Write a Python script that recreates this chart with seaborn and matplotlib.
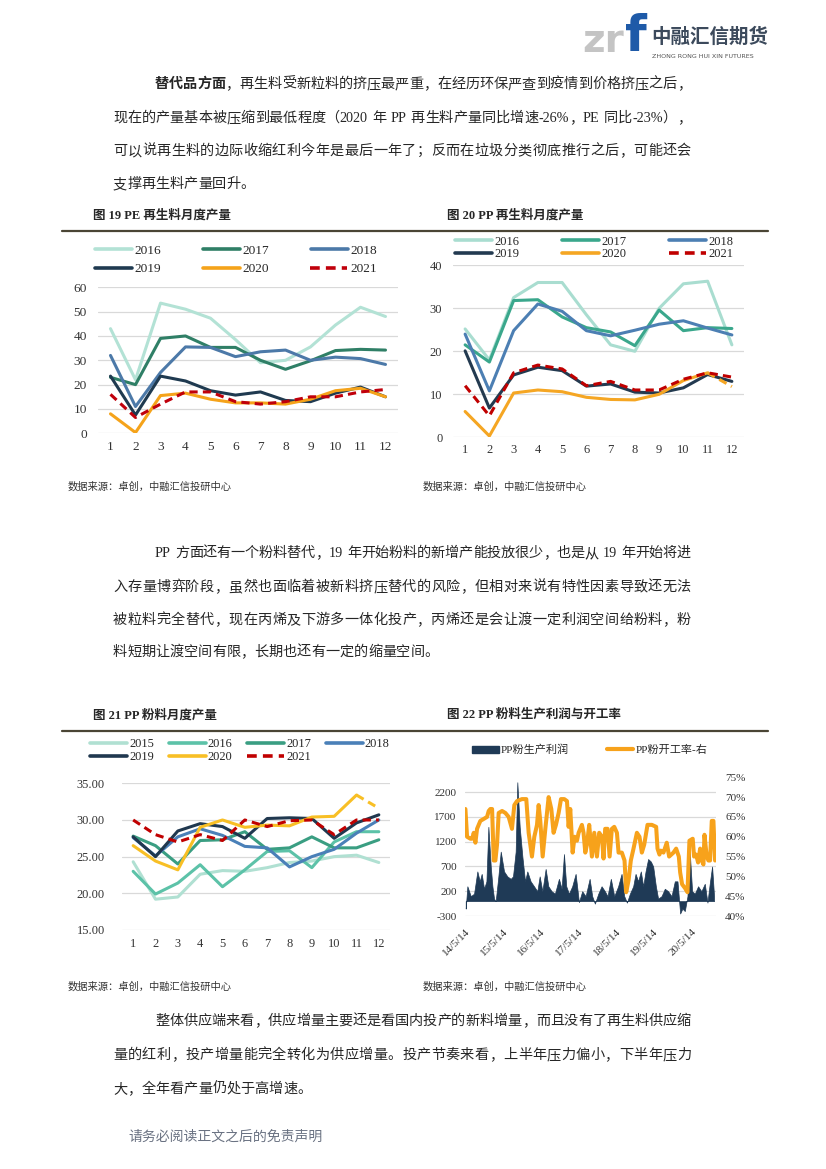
import re

import numpy as np
import pandas as pd
import matplotlib
matplotlib.use("Agg")
import matplotlib.pyplot as plt
from matplotlib.lines import Line2D
from matplotlib.patches import Patch
from matplotlib.ticker import FuncFormatter, FormatStrFormatter
import seaborn as sns

# ---------------- data ----------------
months = list(range(1, 13))

# fig 19 PE recycled output
pe_years = ["2016", "2017", "2018", "2019", "2020", "2021"]
pe_2016 = [43, 22, 53.5, 51, 47.3, 38.5, 29, 30, 35.5, 44.5, 51.8, 48]
pe_2017 = [23, 20, 39, 40, 35.3, 35.3, 30, 26.3, 29.8, 34, 34.5, 34.2]
pe_2018 = [32, 11, 25, 35.5, 35.3, 31.5, 33.5, 34.2, 30, 31.3, 30.7, 28.3]
pe_2019 = [23.5, 7.5, 23.5, 21.5, 17.5, 15.7, 17, 13.5, 13, 16.5, 19, 15]
pe_2020 = [8, 0.3, 15.5, 16.5, 14, 12.5, 12.5, 12, 14, 17.5, 18.5, 15]
pe_2021 = [16, 6.5, 12, 17, 17, 13, 12, 13, 15, 15, 17, 18]
pe_colors = ["#B3E2D5", "#2F7F66", "#4C79A8", "#1F3A50", "#F5A31A", "#C0000B"]

# fig 20 PP recycled output
pp_years = ["2016", "2017", "2018", "2019", "2020", "2021"]
pp_2016 = [25.2, 18, 32.5, 36, 36, 28.5, 21.5, 20, 30, 35.7, 36.3, 21.5]
pp_2017 = [21.5, 17.5, 31.8, 32, 28, 25.5, 24.5, 21.3, 29.6, 24.8, 25.5, 25.3]
pp_2018 = [24, 10.8, 24.8, 31, 29.3, 24.8, 23.6, 24.9, 26.3, 27.1, 25.4, 23.8]
pp_2019 = [20.1, 6.8, 14.5, 16.3, 15.5, 11.9, 12.4, 10.5, 10.3, 11.5, 14.6, 13]
pp_2020 = [6, 0.3, 10.3, 11, 10.6, 9.3, 8.8, 8.7, 10, 13.2, 15, 11.8]
pp_2021 = [12, 5, 15, 16.8, 15.9, 12, 13, 11, 11, 13.5, 15, 14]
pp_colors = ["#A9DDD0", "#3AA78C", "#4C7FB3", "#233A50", "#F5A623", "#C00000"]

# fig 21 PP powder output
pw_years = ["2015", "2016", "2017", "2018", "2019", "2020", "2021"]
pw_2015 = [24.3, 19.2, 19.5, 22.6, 23.1, 23.0, 23.5, 24.2, 24.4, 25.0, 25.2, 24.2]
pw_2016 = [23.0, 19.9, 21.4, 23.9, 20.9, 23.2, 25.7, 25.8, 23.5, 27.0, 28.4, 28.4]
pw_2017 = [27.8, 26.5, 24.0, 27.2, 27.3, 28.4, 26.0, 26.2, 27.7, 26.2, 26.2, 27.3]
pw_2018 = [27.6, 25.1, 27.7, 28.8, 27.9, 26.4, 26.2, 23.6, 25.0, 26.0, 28.2, 30.0]
pw_2019 = [27.7, 25.0, 28.5, 29.5, 29.1, 27.5, 30.2, 30.3, 30.2, 27.5, 29.6, 30.7]
pw_2020 = [26.5, 24.4, 23.2, 29.0, 30.0, 29.0, 29.3, 29.2, 30.4, 30.5, 33.4, 31.6]
pw_2021 = [30.0, 28.0, 27.0, 28.0, 27.2, 30.0, 29.1, 29.9, 30.0, 28.0, 30.0, 30.0]
pw_colors = ["#B0E0D2", "#5CC2A8", "#3A9E82", "#4A80B8", "#20384F", "#F8BF25", "#C00000"]

# fig 22 PP powder profit (left) and operating rate (right, %)
profit_dates = [
    "2014-05-17", "2014-06-02", "2014-07-05", "2014-08-06", "2014-09-07", "2014-09-30",
    "2014-10-19", "2014-11-11", "2014-12-04", "2014-12-23", "2015-01-15", "2015-01-31",
    "2015-02-16", "2015-03-04", "2015-03-30", "2015-04-22", "2015-05-24", "2015-06-25",
    "2015-07-28", "2015-08-19", "2015-09-14", "2015-09-30", "2015-10-23", "2015-11-18",
    "2015-12-14", "2016-01-05", "2016-02-06", "2016-03-10", "2016-04-11", "2016-05-04",
    "2016-05-30", "2016-07-01", "2016-07-27", "2016-08-28", "2016-09-29", "2016-11-07",
    "2016-12-03", "2016-12-26", "2017-01-17", "2017-02-12", "2017-03-16", "2017-04-18",
    "2017-05-20", "2017-06-21", "2017-07-24", "2017-09-01", "2017-09-26", "2017-10-22",
    "2017-11-24", "2017-12-26", "2018-01-27", "2018-02-22", "2018-03-26", "2018-04-28",
    "2018-06-05", "2018-07-08", "2018-08-03", "2018-08-29", "2018-09-27", "2018-10-29",
    "2018-11-21", "2018-12-16", "2019-01-11", "2019-02-03", "2019-02-26", "2019-03-23",
    "2019-04-18", "2019-05-11", "2019-06-06", "2019-06-28", "2019-07-31", "2019-09-01",
    "2019-10-03", "2019-11-05", "2019-12-07", "2020-01-02", "2020-01-28", "2020-02-19",
    "2020-03-13", "2020-04-08", "2020-04-30", "2020-05-23", "2020-06-18", "2020-07-20",
    "2020-08-21", "2020-09-23", "2020-10-19", "2020-11-10", "2020-12-03", "2020-12-22",
]
profit = [
    -150, 300, 100, 150, 600, 400, 550, 250, 400, 1500, 700, 300,
    50, 0, 500, 1000, 600, 500, 450, 500, 1000, 2400, 1500, 900,
    400, 600, 400, 300, 200, 500, 200, 650, 300, 200, 150, 450,
    250, 950, 300, 150, 300, 550, -20, 200, 100, 450, 100, -50,
    150, 300, 200, 100, 450, 100, 300, 550, 100, -30, 150, 300,
    550, 400, 600, 300, 600, 850, 800, 700, 300, 50, 100, 250,
    200, 100, 400, 400, -250, -150, -200, 100, 1000, 200, 150, 300,
    200, 350, -30, 350, 700, 100,
]
rate_dates = [
    "2014-05-14", "2014-05-30", "2014-07-01", "2014-07-18", "2014-08-03", "2014-08-19",
    "2014-09-04", "2014-10-06", "2014-11-08", "2014-12-10", "2014-12-26", "2015-01-11",
    "2015-01-28", "2015-02-13", "2015-03-01", "2015-03-17", "2015-04-02", "2015-05-05",
    "2015-06-06", "2015-07-08", "2015-08-09", "2015-09-01", "2015-09-27", "2015-11-14",
    "2015-12-26", "2016-01-18", "2016-02-19", "2016-03-13", "2016-04-08", "2016-04-24",
    "2016-05-10", "2016-06-02", "2016-06-28", "2016-07-30", "2016-08-25", "2016-09-16",
    "2016-10-09", "2016-11-04", "2016-11-27", "2016-12-29", "2017-01-24", "2017-02-09",
    "2017-02-25", "2017-03-20", "2017-04-08", "2017-05-01", "2017-05-17", "2017-06-18",
    "2017-07-04", "2017-07-21", "2017-08-06", "2017-08-28", "2017-09-23", "2017-10-16",
    "2017-11-11", "2017-12-03", "2017-12-29", "2018-01-14", "2018-01-30", "2018-02-22",
    "2018-03-14", "2018-04-05", "2018-04-28", "2018-05-24", "2018-06-09", "2018-07-11",
    "2018-08-06", "2018-08-22", "2018-09-14", "2018-10-06", "2018-11-01", "2018-12-04",
    "2018-12-29", "2019-01-21", "2019-02-13", "2019-03-17", "2019-04-28", "2019-06-09",
    "2019-06-22", "2019-07-11", "2019-07-24", "2019-08-19", "2019-09-20", "2019-10-13",
    "2019-11-24", "2019-12-20", "2020-01-15", "2020-01-28", "2020-02-16", "2020-03-16",
    "2020-04-08", "2020-04-27", "2020-05-29", "2020-06-11", "2020-07-01", "2020-07-20",
    "2020-08-09", "2020-08-25", "2020-09-10", "2020-09-20", "2020-10-12", "2020-10-28",
    "2020-11-13", "2020-11-30", "2020-12-16", "2021-01-01",
]
rate = [
    67, 60, 59.5, 59.5, 61, 58.5, 62, 64, 64.5, 65, 66.5, 67,
    67, 54, 54, 58, 66, 66.5, 66, 65, 62, 68, 69, 69.5,
    69.5, 61, 55, 60, 63, 68, 64, 55, 62, 70, 67, 61,
    63, 66, 69.5, 69.5, 69, 62.5, 67, 56, 60, 59, 61, 63,
    61, 56, 58, 63, 55, 61, 55, 61, 60, 54.5, 62, 62,
    55, 62, 62.5, 61, 56, 56, 54, 46, 49, 54, 57, 61,
    60, 56, 58, 63, 63, 62.5, 57, 55.5, 56.5, 56, 58.5, 55,
    56, 57, 55, 51, 48, 47, 46, 59, 59.5, 55, 55.5, 53.5,
    57, 54, 53, 60.5, 55, 54, 54, 64, 64, 54,
]
year_ticks = ["2014-05-14", "2015-05-14", "2016-05-14", "2017-05-14",
              "2018-05-14", "2019-05-14", "2020-05-14"]
year_labels = ["14/5/14", "15/5/14", "16/5/14", "17/5/14", "18/5/14", "19/5/14", "20/5/14"]

para1 = [
    [("替代品方面", "bold"), ("，再生料受新粒料的挤压最严重，在经历环保严查到疫情到价格挤压之后，", "normal")],
    [("现在的产量基本被压缩到最低程度（2020 年 PP 再生料产量同比增速-26%，PE 同比-23%），", "normal")],
    [("可以说再生料的边际收缩红利今年是最后一年了；反而在垃圾分类彻底推行之后，可能还会", "normal")],
    [("支撑再生料产量回升。", "normal")],
]
para2 = [
    [("PP 方面还有一个粉料替代，19 年开始粉料的新增产能投放很少，也是从 19 年开始将进", "normal")],
    [("入存量博弈阶段，虽然也面临着被新料挤压替代的风险，但相对来说有特性因素导致还无法", "normal")],
    [("被粒料完全替代，现在丙烯及下游多一体化投产，丙烯还是会让渡一定利润空间给粉料，粉", "normal")],
    [("料短期让渡空间有限，长期也还有一定的缩量空间。", "normal")],
]
para3 = [
    [("整体供应端来看，供应增量主要还是看国内投产的新料增量，而且没有了再生料供应缩", "normal")],
    [("量的红利，投产增量能完全转化为供应增量。投产节奏来看，上半年压力偏小，下半年压力", "normal")],
    [("大，全年看产量仍处于高增速。", "normal")],
]
source = "数据来源：卓创，中融汇信投研中心"

# ---------------- page ----------------
sns.set_style("white")
FONTS = ["Liberation Serif", "Noto Sans CJK SC"]
plt.rcParams["font.family"] = FONTS
plt.rcParams["axes.unicode_minus"] = False

W, H = 826, 1169
fig = plt.figure(figsize=(8.26, 11.69), dpi=100)
renderer = fig.canvas.get_renderer()


def add_ax(l, t, r, b):
    return fig.add_axes([l / W, 1 - b / H, (r - l) / W, (b - t) / H])


def text(x, y, s, size, **kw):
    kw.setdefault("ha", "left")
    return fig.text(x / W, 1 - y / H, s, fontsize=size, va="center", **kw)


def body_line(x, y, parts, right=None, size=10.2):
    # lays a line char by char so full lines can be justified like the word doc
    em = size * 100 / 72
    items = []
    for s, w in parts:
        for tok in re.findall(r"[!-~]+| |[^ -~]", s):
            if tok == " ":
                items.append((None, em * 0.3))
                continue
            t = fig.text(0, 0, tok, fontsize=size, weight=w, va="baseline")
            wd = t.get_window_extent(renderer).width if tok.isascii() else em
            items.append((t, wd))
    total = sum(wd for _, wd in items)
    gap = 0 if right is None else (right - x - total) / (len(items) - 1)
    cx = x
    for t, wd in items:
        if t is not None:
            t.set_position((cx / W, 1 - (y + 5) / H))
        cx += wd + gap


def paragraph(lines, ys):
    for i, (parts, y) in enumerate(zip(lines, ys)):
        x0 = 155 if i == 0 else 113
        body_line(x0, y, parts, right=691 if i < len(lines) - 1 else None)


def style_ax(ax, fs, xpad, ypad):
    ax.yaxis.grid(True, color="#D9D9D9", lw=0.9)
    ax.xaxis.grid(False)
    ax.set_axisbelow(True)
    for s in ax.spines.values():
        s.set_visible(False)
    ax.tick_params(axis="x", length=0, labelsize=fs, pad=xpad, colors="#333333")
    ax.tick_params(axis="y", length=0, labelsize=fs, pad=ypad, colors="#333333")
    ax.set_xlabel("")
    ax.set_ylabel("")


def month_chart(ax, years, series, colors, dashed_tail=False):
    rows = []
    for y, vals in zip(years, series):
        for m, v in zip(months, vals):
            if dashed_tail and y == "2020" and m == 12:
                continue
            rows.append((m, v, y))
        if dashed_tail and y == "2020":
            rows += [(11, vals[10], "2020e"), (12, vals[11], "2020e")]
    df = pd.DataFrame(rows, columns=["month", "value", "year"])
    pal = dict(zip(years, colors))
    dashes = {y: "" for y in years}
    dashes["2021"] = (2.7, 1.7)
    if dashed_tail:
        pal["2020e"] = pal["2020"]
        dashes["2020e"] = (2.7, 1.7)
    sns.lineplot(data=df, x="month", y="value", hue="year", style="year",
                 palette=pal, dashes=dashes, linewidth=2.2, ax=ax, legend=False)
    ax.set_xlim(0.5, 12.5)
    ax.set_xticks(months)


def legend_rows(rows, x, ys, fs, hl, hp, cs):
    for entries, y in zip(rows, ys):
        handles = [Line2D([], [], color=c, lw=2.6,
                          linestyle=(0, (2.7, 1.7)) if lab == "2021" else "-")
                   for lab, c in entries]
        fig.legend(handles, [lab for lab, _ in entries], ncol=len(entries),
                   loc="center left", bbox_to_anchor=(x / W, 1 - y / H),
                   frameon=False, fontsize=fs, handlelength=hl, handletextpad=hp,
                   columnspacing=cs, borderpad=0, borderaxespad=0)


# header logo
text(624, 41, "zr", 28, color="#C4C4C4", family="DejaVu Sans", weight="bold", ha="right")
text(625, 37, "f", 36, color="#1E5AA8", family="DejaVu Sans", weight="bold")
text(651, 37, "中融汇信期货", 14, color="#3C4A5C", family="Noto Sans CJK SC", weight="bold")
text(652, 57, "ZHONG RONG HUI XIN FUTURES", 4.6, color="#555555", family="DejaVu Sans")

paragraph(para1, [83, 117, 150, 183])
paragraph(para2, [552, 586, 619, 651])
paragraph(para3, [1020, 1054, 1088])
text(128, 1137, "请务必阅读正文之后的免责声明", 10, color="#6A7282")

# titles, rules, sources
for x, y, s in [(93, 215, "图 19 PE 再生料月度产量"), (447, 215, "图 20 PP 再生料月度产量"),
                (93, 715, "图 21 PP 粉料月度产量"), (447, 715, "图 22 PP 粉料生产利润与开工率")]:
    text(x, y, s, 9, weight="bold")
for y in (231, 731):
    fig.add_artist(Line2D([62 / W, 768 / W], [1 - y / H, 1 - y / H], color="#4A4535", lw=1.6))
for x, y in [(68, 487), (423, 487), (68, 987), (423, 987)]:
    text(x, y, source, 7.4, color="#333333")

# fig 19
ax1 = add_ax(98, 287.3, 398, 433.3)
month_chart(ax1, pe_years, [pe_2016, pe_2017, pe_2018, pe_2019, pe_2020, pe_2021], pe_colors)
ax1.set_ylim(0, 60)
ax1.set_yticks(range(0, 61, 10))
style_ax(ax1, 9.6, 5.4, 8.1)
pe_entries = list(zip(pe_years, pe_colors))
legend_rows([pe_entries[:3], pe_entries[3:]], 95, [250.7, 269], 9.6, 2.78, 0.2, 3.1)

# fig 20
ax2 = add_ax(453, 265.3, 744, 437.3)
month_chart(ax2, pp_years, [pp_2016, pp_2017, pp_2018, pp_2019, pp_2020, pp_2021], pp_colors,
            dashed_tail=True)
ax2.set_ylim(0, 40)
ax2.set_yticks(range(0, 41, 10))
style_ax(ax2, 9, 4.5, 7.7)
pp_entries = list(zip(pp_years, pp_colors))
legend_rows([pp_entries[:3], pp_entries[3:]], 455, [241.7, 254.3], 9, 2.96, 0.2, 3.4)

# fig 21
ax3 = add_ax(122, 783.3, 390, 930)
month_chart(ax3, pw_years, [pw_2015, pw_2016, pw_2017, pw_2018, pw_2019, pw_2020, pw_2021],
            pw_colors, dashed_tail=True)
ax3.set_ylim(15, 35)
ax3.set_yticks(range(15, 36, 5))
ax3.yaxis.set_major_formatter(FormatStrFormatter("%.2f"))
style_ax(ax3, 8.9, 5.8, 12.2)
pw_entries = list(zip(pw_years, pw_colors))
legend_rows([pw_entries[:4], pw_entries[4:]], 90, [744, 757.3], 8.9, 3.0, 0.15, 1.2)

# fig 22
NAVY, ORANGE = "#1F3A56", "#F7A21B"
ax4 = add_ax(465, 777.3, 716, 916)
ax4.fill_between(pd.to_datetime(profit_dates), profit, 0, color=NAVY, lw=0.5)
ax4.set_ylim(-300, 2500)
ax4.set_yticks(range(-300, 2201, 500))
ax4b = ax4.twinx()
sns.lineplot(x=pd.to_datetime(rate_dates), y=np.array(rate) / 100, color=ORANGE,
             lw=2.9, ax=ax4b)
ax4b.set_ylim(0.40, 0.75)
ax4b.set_yticks(np.arange(0.40, 0.751, 0.05))
ax4b.yaxis.set_major_formatter(FuncFormatter(lambda v, p: f"{v * 100:.0f}%"))
ax4.set_xlim(pd.Timestamp("2014-05-10"), pd.Timestamp("2021-01-10"))
ax4.set_xticks(pd.to_datetime(year_ticks))
ax4.set_xticklabels(year_labels, rotation=45, ha="right", va="top", rotation_mode="anchor")
style_ax(ax4, 8, 7.7, 6)
style_ax(ax4b, 8, 7.7, 6.5)
ax4b.yaxis.grid(False)
fig.legend([Patch(color=NAVY), Line2D([], [], color=ORANGE, lw=3)],
           ["PP粉生产利润", "PP粉开工率-右"], ncol=2, loc="center left",
           bbox_to_anchor=(472 / W, 1 - 750 / H), frameon=False, fontsize=8,
           handlelength=2.4, handletextpad=0.2, columnspacing=3.4,
           borderpad=0, borderaxespad=0)

fig.savefig("out.png", dpi=100, facecolor="white")
